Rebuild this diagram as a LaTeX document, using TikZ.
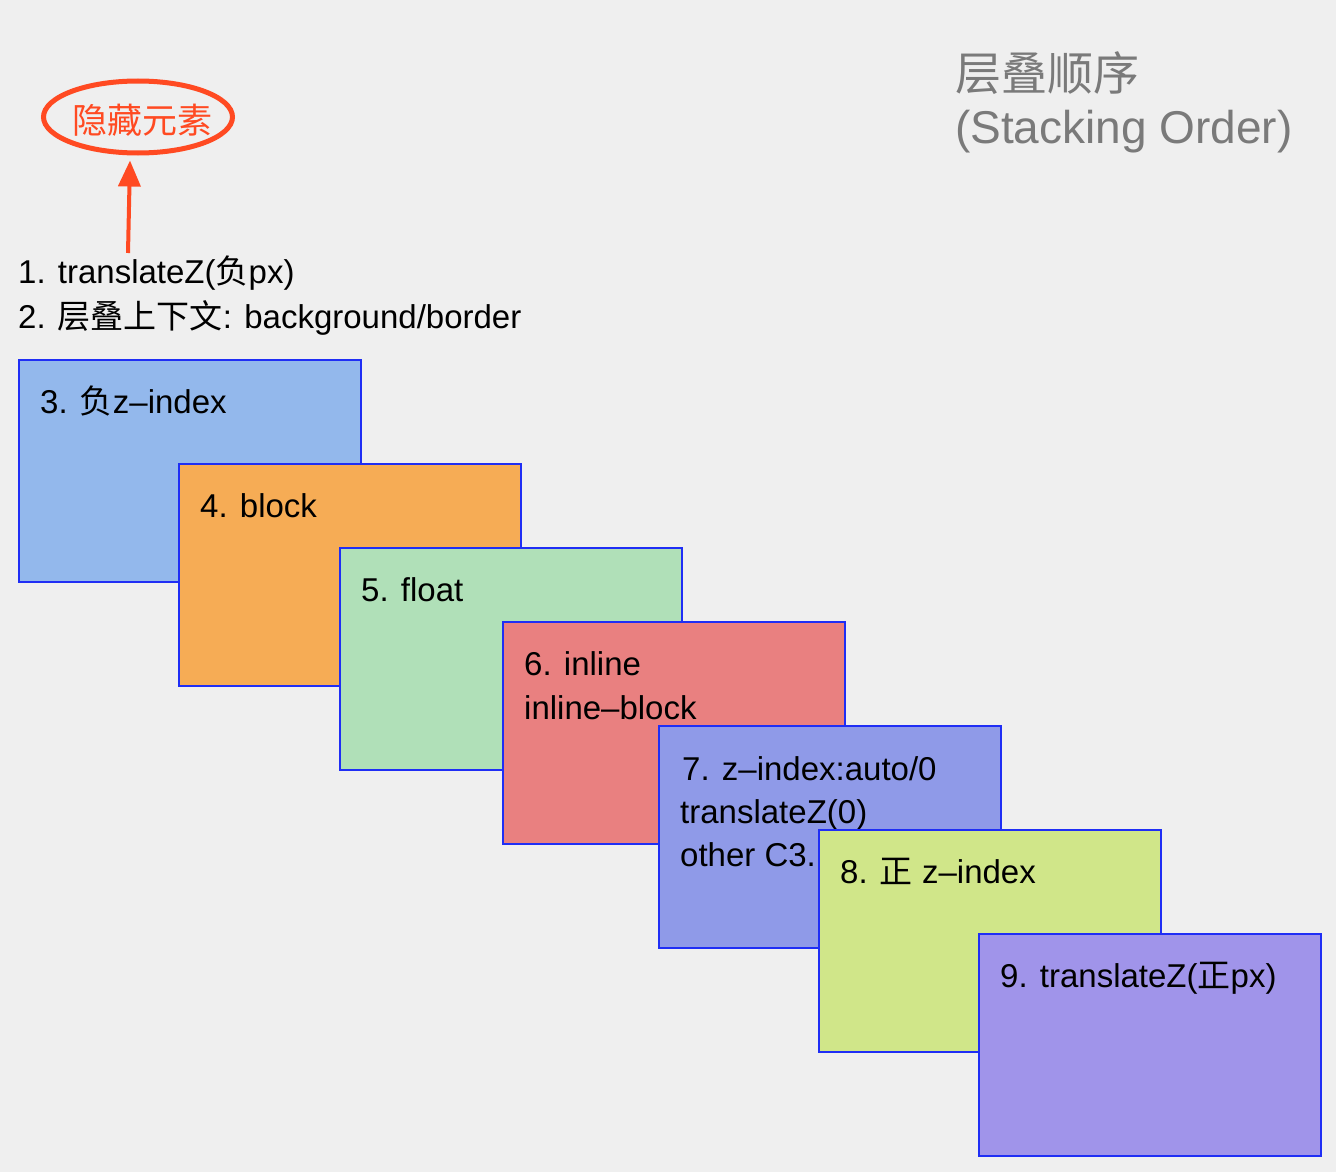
\documentclass[tikz,border=0pt]{standalone}
\usepackage{fontspec}
\setmainfont{Liberation Sans}
\newfontfamily\cjk{Noto Sans CJK SC}
\usetikzlibrary{calc,arrows.meta,shapes.geometric}
\definecolor{bg}{HTML}{EFEFEF}
\definecolor{bord}{HTML}{1F2EF5}
\definecolor{hot}{HTML}{FF4A22}
\definecolor{titlegray}{HTML}{7A7A7A}
\definecolor{c3}{HTML}{93B8EC}
\definecolor{c4}{HTML}{F6AC55}
\definecolor{c5}{HTML}{B0E0B8}
\definecolor{c6}{HTML}{E98080}
\definecolor{c7}{HTML}{8F9AE8}
\definecolor{c8}{HTML}{D0E689}
\definecolor{c9}{HTML}{A094EA}
\tikzset{
  panel/.style={draw=bord, line width=2pt, minimum width=342pt, minimum height=222pt, inner sep=0pt, anchor=north west},
  lbl/.style={font=\fontsize{33}{40}\selectfont, inner sep=0pt, anchor=base west, text=black},
  ttl/.style={font=\fontsize{46}{54}\selectfont, inner sep=0pt, anchor=base west, text=titlegray},
}
\begin{document}
\begin{tikzpicture}[x=1pt,y=-1pt]
\fill[bg] (0,0) rectangle (1336,1172);
\useasboundingbox (0,0) rectangle (1336,1172);

% title
\node[ttl] (title1) at (955,90) {{\cjk 层叠顺序}};
\node[ttl] (title2) at (955,143) {(Stacking Order)};

% hidden element ellipse
\node[ellipse, draw=hot, line width=5pt, minimum width=189pt, minimum height=72pt, inner sep=0pt] (hide) at (138,117) {};
\node[text=hot, inner sep=0pt, font=\fontsize{35}{40}\selectfont\cjk] (hidetxt) at ($(hide.center)+(4,3)$) {隐藏元素};
\coordinate (a1) at (128,253);
\draw[hot, line width=4pt, -{Triangle[width=22pt,length=26pt]}] (a1) -- ($(hide.south)+(-8,5)$);

% top text
\node[lbl] (l1) at (18,283) {1. translateZ({\cjk 负}px)};
\node[lbl] (l2) at (18,328) {2. {\cjk 层叠上下文}: background/border};

% boxes
\node[panel, fill=c3] (b3) at (18,359) {};
\node[lbl] (t3) at ($(b3.north west)+(22,54)$) {3. {\cjk 负}z–index};

\node[panel, fill=c4] (b4) at (178,463) {};
\node[lbl] (t4) at ($(b4.north west)+(22,54)$) {4. block};

\node[panel, fill=c5] (b5) at (339,547) {};
\node[lbl] (t5) at ($(b5.north west)+(22,54)$) {5. float};

\node[panel, fill=c6] (b6) at (502,621) {};
\node[lbl] (t6a) at ($(b6.north west)+(22,54)$) {6. inline};
\node[lbl] (t6b) at ($(b6.north west)+(22,98)$) {inline–block};

\node[panel, fill=c7] (b7) at (658,725) {};
\node[lbl] (t7a) at ($(b7.north west)+(24,55)$) {7. z–index:auto/0};
\node[lbl] (t7b) at ($(b7.north west)+(22,98)$) {translateZ(0)};
\node[lbl] (t7c) at ($(b7.north west)+(22,141)$) {other C3.};

\node[panel, fill=c8] (b8) at (818,829) {};
\node[lbl] (t8) at ($(b8.north west)+(22,54)$) {8. {\cjk 正} z–index};

\node[panel, fill=c9] (b9) at (978,933) {};
\node[lbl] (t9) at ($(b9.north west)+(22,54)$) {9. translateZ({\cjk 正}px)};
\end{tikzpicture}
\end{document}
